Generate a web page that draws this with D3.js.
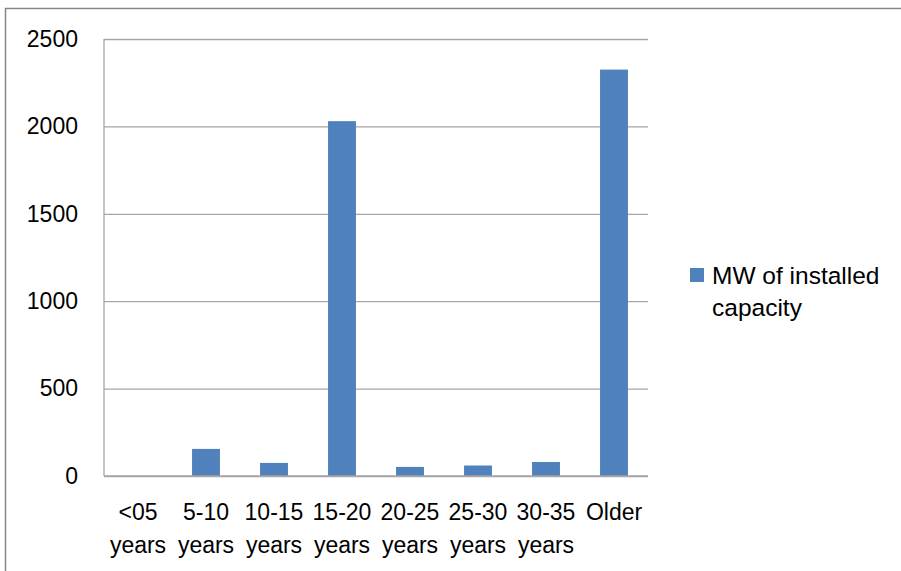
<!DOCTYPE html>
<html>
<head>
<meta charset="utf-8">
<script src="https://cdn.jsdelivr.net/npm/d3@7/dist/d3.min.js"></script>
<style>
  html, body { margin: 0; padding: 0; background: #fff; }
  svg { display: block; }
</style>
</head>
<body>
<svg id="chart" width="901" height="571"></svg>
<script>
// Age bands of installed plants and their capacity in MW
const categories = ["<05 years", "5-10 years", "10-15 years", "15-20 years", "20-25 years", "25-30 years", "30-35 years", "Older"];
const capacity = [0, 155, 75, 2030, 52, 60, 80, 2325];
const yTicks = [0, 500, 1000, 1500, 2000, 2500];
const seriesName = ["MW of installed", "capacity"];

const FONT = "'Liberation Sans', Arial, sans-serif";
const svg = d3.select("#chart").attr("font-family", FONT);
const W = 901, H = 571;
const plot = { left: 104, right: 648, top: 39, bottom: 476 };

// Outer chart frame
svg.append("rect")
  .attr("x", 5.5).attr("y", 8.5)
  .attr("width", W + 10).attr("height", H + 10)
  .attr("fill", "none").attr("stroke", "#868686").attr("stroke-width", 1.5);

const x = d3.scaleBand().domain(categories).range([plot.left, plot.right]).paddingInner(0.59).paddingOuter(0.295);
const y = d3.scaleLinear().domain([0, 2500]).range([plot.bottom, plot.top]);

// Horizontal gridlines and value labels
const yAxis = d3.axisLeft(y).tickValues(yTicks).tickFormat(d3.format("d"))
  .tickSize(-(plot.right - plot.left)).tickPadding(26);
const gy = svg.append("g").attr("transform", `translate(${plot.left},0)`).call(yAxis)
  .attr("font-family", FONT).attr("font-size", 23);
gy.select(".domain").remove();
gy.selectAll(".tick line").attr("stroke", "#a6a6a6").attr("stroke-width", 1.3);
gy.selectAll(".tick text").attr("fill", "#000");

// Vertical axis line
svg.append("line")
  .attr("x1", plot.left).attr("x2", plot.left)
  .attr("y1", plot.top).attr("y2", plot.bottom)
  .attr("stroke", "#a6a6a6").attr("stroke-width", 1.3);

// Bars
svg.append("g").selectAll("rect").data(capacity).join("rect")
  .attr("x", (d, i) => x(categories[i]))
  .attr("y", d => y(d))
  .attr("width", x.bandwidth())
  .attr("height", d => y(0) - y(d))
  .attr("fill", "#4f81bd");

// Category labels, split over two lines
const xb = d3.scaleBand().domain(categories).range([plot.left, plot.right]);
const lab = svg.append("g").selectAll("text").data(categories).join("text")
  .attr("x", d => xb(d) + xb.bandwidth() / 2)
  .attr("y", 520)
  .attr("text-anchor", "middle")
  .attr("font-size", 23)
  .attr("fill", "#000");
lab.each(function (d) {
  const parts = d.split(" ");
  const t = d3.select(this);
  parts.forEach((p, k) => {
    t.append("tspan").attr("x", xb(d) + xb.bandwidth() / 2).attr("dy", k === 0 ? 0 : 33).text(p);
  });
});

// Baseline
svg.append("line")
  .attr("x1", plot.left).attr("x2", plot.right)
  .attr("y1", plot.bottom).attr("y2", plot.bottom)
  .attr("stroke", "#a6a6a6").attr("stroke-width", 1.3);

// Legend
const lg = svg.append("g").attr("font-size", 24.5).attr("fill", "#000");
lg.append("rect").attr("x", 690).attr("y", 268).attr("width", 14).attr("height", 14).attr("fill", "#4f81bd");
lg.append("text").attr("x", 712).attr("y", 284).text(seriesName[0]);
lg.append("text").attr("x", 712).attr("y", 316).text(seriesName[1]);
</script>
</body>
</html>
